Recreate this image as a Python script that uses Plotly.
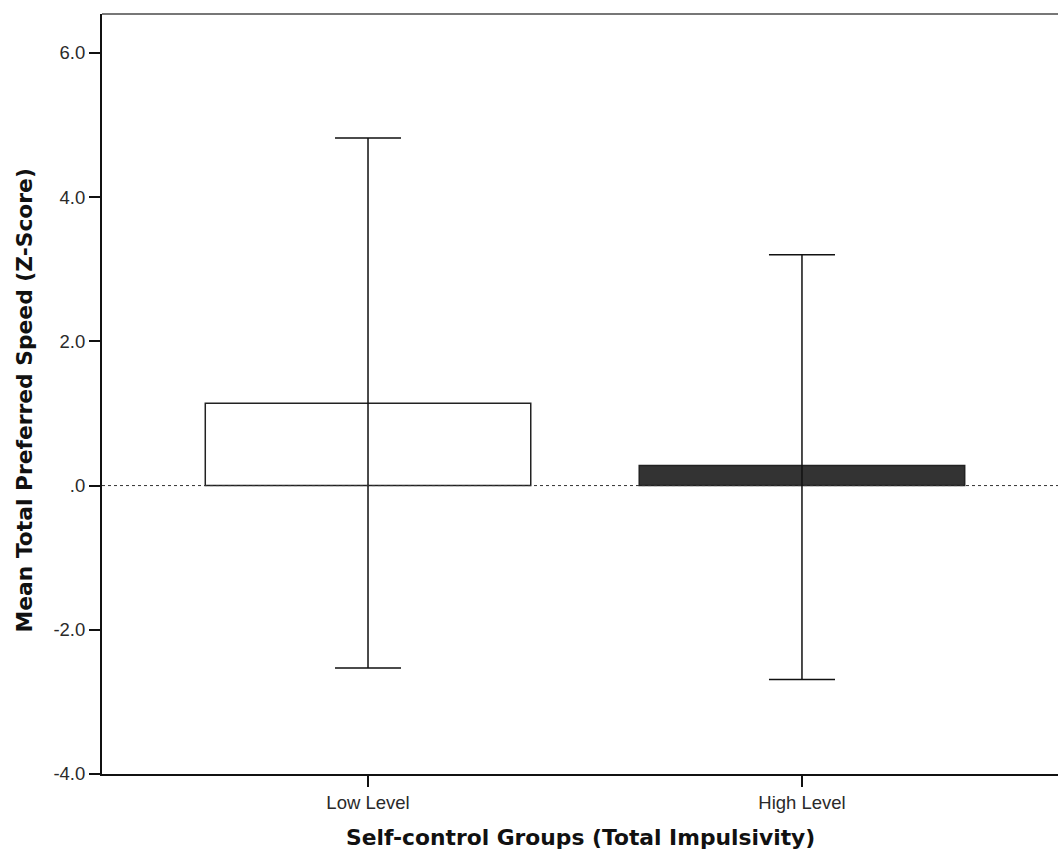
import plotly.graph_objects as go

categories = ["Low Level", "High Level"]
means = [1.14, 0.28]
ci_upper = [4.82, 3.20]
ci_lower = [-2.53, -2.69]
bar_colors = ["#ffffff", "#333333"]
y_tickvals = [-4, -2, 0, 2, 4, 6]
y_ticktext = ["-4.0", "-2.0", ".0", "2.0", "4.0", "6.0"]

xpos = list(range(len(categories)))
err_plus = [u - m for u, m in zip(ci_upper, means)]
err_minus = [m - l for m, l in zip(means, ci_lower)]

fig = go.Figure()
fig.add_trace(go.Bar(
    x=xpos, y=means, width=0.75,
    marker=dict(color=bar_colors, line=dict(color="#222222", width=1.5)),
    error_y=dict(type="data", symmetric=False, array=err_plus, arrayminus=err_minus,
                 color="#111111", thickness=1.5, width=33),
    showlegend=False,
))

fig.add_shape(type="line", xref="paper", yref="y", x0=0, x1=1, y0=0, y1=0,
              line=dict(color="#333333", width=1, dash="3px,3px"), layer="above")
fig.add_shape(type="line", xref="paper", yref="paper", x0=0, x1=1, y0=1, y1=1,
              line=dict(color="#777777", width=2))

tick_font = "Liberation Sans, Arial, sans-serif"
title_font = "DejaVu Sans, Verdana, sans-serif"
fig.update_layout(
    width=1058, height=854,
    margin=dict(l=102, r=0, t=14, b=80),
    plot_bgcolor="white", paper_bgcolor="white",
    font=dict(family=tick_font, size=18, color="#333333"),
    xaxis=dict(range=[-0.613, 1.59], tickvals=xpos, ticktext=categories,
               showgrid=False, zeroline=False, showline=True, linecolor="#111111", linewidth=2,
               ticks="outside", ticklen=11, tickwidth=1.5, tickcolor="#111111",
               tickfont=dict(size=18.5, color="#2a2a2a", family=tick_font)),
    yaxis=dict(range=[-4, 6.54], tickvals=y_tickvals, ticktext=y_ticktext,
               showgrid=False, zeroline=False, showline=True, linecolor="#111111", linewidth=2,
               ticks="outside", ticklen=11, tickwidth=1.5, tickcolor="#111111",
               tickfont=dict(size=18.5, color="#2a2a2a", family=tick_font)),
    annotations=[
        dict(text="<b>Self-control Groups (Total Impulsivity)</b>", xref="paper", yref="paper",
             x=0.5, y=-0.084, xanchor="center", yanchor="middle", showarrow=False,
             font=dict(size=21.8, color="#111111", family=title_font)),
        dict(text="<b>Mean Total Preferred Speed (Z-Score)</b>", xref="paper", yref="paper",
             x=-0.081, y=0.491, xanchor="center", yanchor="middle", textangle=-90, showarrow=False,
             font=dict(size=21.8, color="#111111", family=title_font)),
    ],
)

fig.write_html("out.html")
